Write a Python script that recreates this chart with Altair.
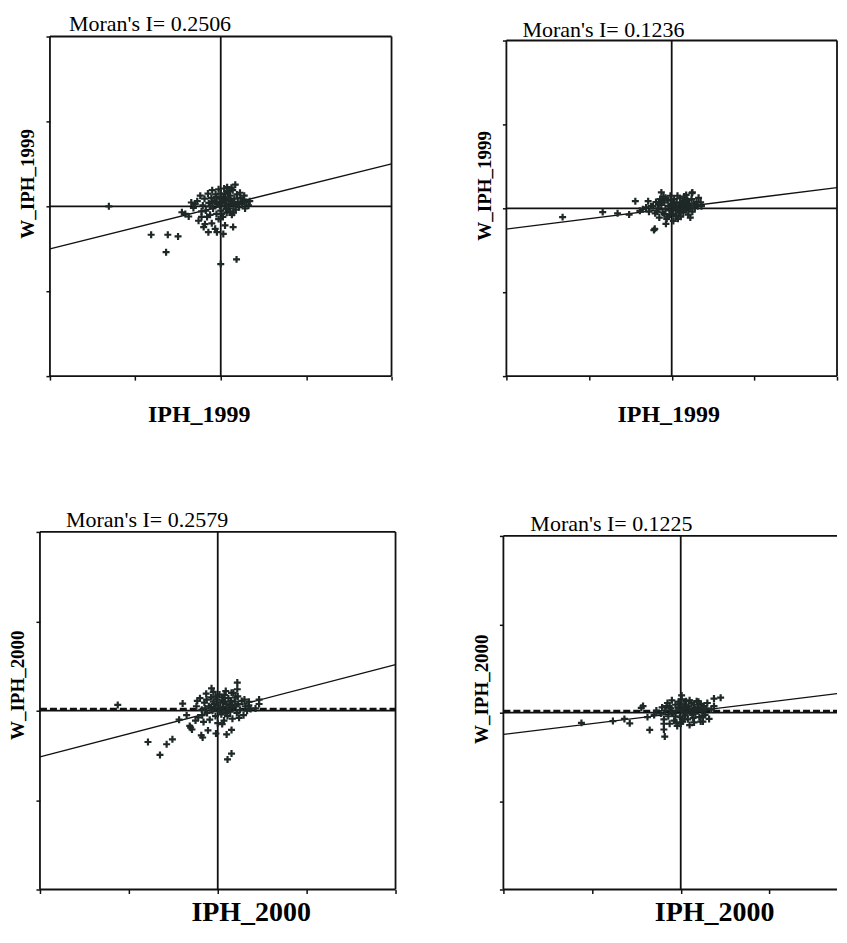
import altair as alt
import pandas as pd

# ---------------- data (standardised values) ----------------
moran_i = [0.2506, 0.1236, 0.2579, 0.1225]
titles = ["Moran's I= 0.2506", "Moran's I= 0.1236", "Moran's I= 0.2579", "Moran's I= 0.1225"]
x_names = ["IPH_1999", "IPH_1999", "IPH_2000", "IPH_2000"]
y_names = ["W_IPH_1999", "W_IPH_1999", "W_IPH_2000", "W_IPH_2000"]
tick_values = [-4, -2, 0, 2, 4]

p1_points = [
    (-2.62, 0.0), (-1.63, -0.67), (-1.24, -0.67), (-1.0, -0.71), (-1.28, -1.08),
    (0.37, -1.25), (0.0, -1.36), (0.29, -0.49), (-0.83, -0.18), (-0.91, -0.14),
    (-0.75, -0.24), (-0.69, 0.09), (-0.64, -0.04), (-0.52, -0.34), (-0.40, -0.49),
    (-0.29, -0.61), (-0.13, -0.53), (-0.09, -0.61), (0.06, -0.65), (-0.37, -0.42),
    (-0.21, -0.40), (0.34, 0.51), (0.10, -0.45), (-0.45, -0.25),
    (-0.55, 0.12), (-0.48, 0.25), (-0.42, 0.02), (-0.38, 0.18), (-0.35, -0.1),
    (-0.3, 0.3), (-0.28, 0.08), (-0.25, -0.2), (-0.22, 0.2), (-0.2, 0.38),
    (-0.18, -0.05), (-0.15, 0.12), (-0.12, 0.28), (-0.1, -0.18), (-0.08, 0.05),
    (-0.05, 0.4), (-0.03, 0.18), (0.0, -0.1), (0.0, 0.3), (0.02, 0.08),
    (0.05, -0.25), (0.06, 0.22), (0.08, 0.42), (0.1, 0.0), (0.12, 0.15),
    (0.14, -0.15), (0.16, 0.32), (0.18, 0.06), (0.2, -0.05), (0.22, 0.25),
    (0.24, 0.12), (0.26, -0.2), (0.28, 0.38), (0.3, 0.02), (0.32, 0.18),
    (0.35, -0.08), (0.38, 0.28), (0.4, 0.1), (0.43, -0.02), (0.46, 0.2),
    (0.5, 0.05), (0.53, 0.15), (0.57, -0.05), (0.6, 0.1), (0.65, 0.02),
    (0.68, 0.12), (-0.45, -0.12), (-0.6, 0.05), (0.15, 0.45), (0.25, 0.44),
    (-0.1, 0.22), (0.05, 0.12), (-0.2, 0.1), (0.1, 0.3), (0.3, -0.15),
    (0.45, 0.32), (-0.32, -0.25), (-0.05, -0.3), (0.2, 0.35), (0.55, 0.25),
    (-0.02, 0.02), (0.08, 0.2), (0.18, 0.18), (0.28, 0.1), (-0.12, 0.1),
    (0.38, 0.05), (0.12, -0.06), (-0.25, 0.0), (0.02, -0.18), (0.22, -0.12),
]

p2_points = [
    (-2.64, -0.21), (-1.67, -0.09), (-1.31, -0.12), (-1.03, -0.15), (-0.88, 0.17),
    (-0.57, 0.17), (-0.25, 0.38), (-0.41, -0.49), (-0.43, -0.52), (-0.77, -0.06),
    (-0.70, -0.02), (-0.14, -0.37), (0.49, 0.36), (0.70, 0.14), (0.50, 0.38),
    (-0.62, 0.02), (-0.55, -0.08), (-0.50, 0.05), (0.65, 0.25), (0.72, 0.05),
    (-0.45, 0.05), (-0.4, -0.12), (-0.38, 0.15), (-0.33, 0.0), (-0.3, -0.22),
    (-0.28, 0.22), (-0.25, 0.08), (-0.22, -0.1), (-0.2, 0.28), (-0.18, 0.14),
    (-0.15, -0.02), (-0.12, -0.25), (-0.1, 0.2), (-0.08, 0.06), (-0.05, -0.15),
    (-0.03, 0.3), (0.0, 0.1), (0.02, -0.05), (0.04, -0.3), (0.06, 0.22),
    (0.08, 0.02), (0.1, -0.18), (0.12, 0.14), (0.14, 0.3), (0.16, -0.08),
    (0.18, 0.06), (0.2, 0.24), (0.22, -0.2), (0.24, 0.0), (0.26, 0.16),
    (0.28, -0.1), (0.3, 0.28), (0.32, 0.08), (0.35, -0.04), (0.38, 0.2),
    (0.4, -0.15), (0.42, 0.1), (0.45, 0.0), (0.48, 0.22), (0.5, -0.08),
    (0.53, 0.12), (0.56, 0.02), (0.6, 0.15), (0.63, 0.05), (-0.35, -0.08),
    (-0.15, 0.25), (0.05, 0.12), (0.15, -0.25), (0.35, 0.32), (-0.05, -0.05),
    (0.25, 0.1), (0.45, -0.22), (-0.25, 0.18), (0.1, 0.05), (0.3, -0.02),
    (-0.1, -0.2), (-0.02, 0.18), (0.12, -0.02), (0.22, 0.12), (0.34, 0.18),
    (-0.18, -0.14), (0.04, -0.14), (0.2, -0.1), (0.4, 0.05), (-0.3, 0.1),
]

p3_points = [
    (-2.25, 0.13), (-1.57, -0.70), (-1.15, -0.75), (-1.02, -0.64), (-1.30, -0.99),
    (0.22, -1.09), (0.31, -0.96), (0.20, -0.53), (0.31, -0.43), (-0.04, -0.51),
    (-0.34, -0.60), (-0.37, -0.55), (-0.61, -0.38), (-0.58, -0.42), (-0.63, -0.34),
    (-0.87, -0.20), (-0.79, 0.16), (-0.14, 0.50), (0.44, 0.63), (0.44, 0.48),
    (0.31, 0.40), (0.93, 0.25), (0.93, 0.15), (0.48, -0.16), (-0.22, -0.44),
    (-0.46, 0.22), (0.85, 0.05), (0.70, 0.20), (-0.70, -0.10), (-0.50, -0.22),
    (-0.48, 0.1), (-0.44, -0.15), (-0.4, 0.28), (-0.36, 0.02), (-0.32, -0.25),
    (-0.3, 0.18), (-0.26, 0.38), (-0.24, -0.05), (-0.2, 0.1), (-0.18, -0.2),
    (-0.15, 0.3), (-0.12, 0.0), (-0.1, 0.42), (-0.08, 0.15), (-0.05, -0.12),
    (-0.02, 0.25), (0.0, -0.28), (0.02, 0.05), (0.04, 0.36), (0.06, 0.18),
    (0.08, -0.08), (0.1, 0.3), (0.12, 0.08), (0.14, -0.22), (0.16, 0.2),
    (0.18, 0.44), (0.2, 0.0), (0.22, -0.12), (0.24, 0.28), (0.26, 0.12),
    (0.28, -0.02), (0.3, 0.22), (0.33, -0.18), (0.36, 0.08), (0.4, 0.3),
    (0.43, -0.05), (0.46, 0.15), (0.5, 0.02), (0.54, 0.22), (0.58, -0.1),
    (0.62, 0.1), (0.66, 0.0), (0.7, 0.12), (0.74, 0.04), (-0.1, 0.2),
    (0.05, -0.02), (0.15, 0.35), (-0.25, 0.25), (0.35, 0.4), (0.1, -0.3),
    (-0.35, -0.1), (0.25, 0.05), (-0.05, 0.05), (0.45, 0.32), (0.6, 0.25),
    (0.0, 0.12), (0.12, 0.22), (0.2, 0.14), (-0.15, 0.08), (0.32, 0.12),
    (0.08, 0.02), (-0.05, 0.32), (0.18, -0.05), (0.38, 0.2), (-0.28, 0.05),
]

p4_points = [
    (-2.24, -0.23), (-1.53, -0.19), (-1.27, -0.14), (-1.15, -0.24), (-0.89, 0.11),
    (-0.85, 0.15), (-0.70, -0.39), (-0.38, -0.38), (-0.36, -0.54), (0.02, 0.39),
    (0.75, 0.32), (0.90, 0.34), (0.69, 0.07), (0.64, -0.14), (0.50, -0.07),
    (-0.60, -0.05), (-0.55, 0.05), (-0.75, -0.10), (0.45, -0.20), (0.75, 0.15),
    (-0.45, -0.02), (-0.42, 0.12), (-0.38, -0.15), (-0.35, 0.05), (-0.3, 0.22),
    (-0.28, -0.08), (-0.25, -0.25), (-0.22, 0.1), (-0.2, 0.28), (-0.18, -0.02),
    (-0.15, -0.18), (-0.12, 0.18), (-0.1, 0.04), (-0.08, -0.3), (-0.05, 0.25),
    (-0.02, -0.1), (0.0, 0.1), (0.02, 0.3), (0.04, -0.2), (0.06, 0.02),
    (0.08, 0.18), (0.1, -0.06), (0.12, 0.26), (0.14, 0.08), (0.16, -0.15),
    (0.18, 0.14), (0.2, -0.28), (0.22, 0.0), (0.24, 0.22), (0.26, 0.06),
    (0.28, -0.12), (0.3, 0.18), (0.33, -0.02), (0.36, 0.26), (0.39, 0.1),
    (0.42, -0.1), (0.45, 0.2), (0.48, 0.04), (0.52, 0.15), (0.55, -0.05),
    (0.58, 0.1), (0.6, 0.22), (-0.32, 0.15), (-0.1, -0.22), (0.1, 0.12),
    (0.3, -0.22), (-0.2, 0.0), (0.0, -0.25), (0.2, 0.28), (0.4, 0.25),
    (-0.05, 0.12), (0.15, 0.0), (-0.38, -0.25), (0.5, -0.2),
    (-0.02, 0.2), (0.08, -0.14), (0.2, 0.08), (0.34, 0.08), (-0.12, -0.08),
    (0.05, 0.08), (0.26, -0.04), (-0.25, 0.12), (0.12, 0.16), (0.44, 0.1),
]

# ---------------- styling ----------------
INK = "#111111"
PT = "#1e2826"
SERIF = "Liberation Serif"
PLUS = "M-1,0L1,0M0,-1L0,1"


def panel(points, moran, title, xname, yname, cell_w, cell_h, xmin, xmax, ymax, xticks,
          y_axis_off, t_dx, t_off, yt_y, xt_x, xt_y, xt_size, right_border, dashed):
    """One Moran scatterplot; the frame box spans [-4,4] in both axes."""
    xs = [p[0] for p in points]
    ys = [p[1] for p in points]
    xr = min(4, xmax)
    xscale = alt.Scale(domain=[xmin, xmax], nice=False, zero=False)
    yscale = alt.Scale(domain=[-4, ymax], nice=False, zero=False)
    xaxis = alt.Axis(values=xticks, labels=False, grid=False, domain=False, tickSize=4,
                     tickWidth=1.5, tickColor=INK, title=xname, titleFont=SERIF,
                     titleFontSize=xt_size, titleFontWeight="bold", titleColor="black",
                     titleX=xt_x, titleY=xt_y, titleAlign="center", titleBaseline="alphabetic")
    yaxis = alt.Axis(values=tick_values, labels=False, grid=False, domain=False, tickSize=4,
                     tickWidth=1.5, tickColor=INK, offset=y_axis_off, title=yname,
                     titleFont=SERIF, titleFontSize=19, titleFontWeight="bold",
                     titleColor="black", titleX=-22, titleY=yt_y, titleAngle=270,
                     titleAlign="center", titleBaseline="middle")
    X = alt.X("x:Q", scale=xscale, axis=xaxis)
    Y = alt.Y("y:Q", scale=yscale, axis=yaxis)

    # frame box
    vx = [-4, 4] if right_border else [-4]
    vbox = alt.Chart(pd.DataFrame({"x": vx, "y": [-4] * len(vx), "y2": [4] * len(vx)})).mark_rule(
        color=INK, strokeWidth=1.8).encode(x=X, y=Y, y2="y2:Q")
    hbox = alt.Chart(pd.DataFrame({"y": [-4, 4], "x": [-4, -4], "x2": [xr, xr]})).mark_rule(
        color=INK, strokeWidth=1.8).encode(y=Y, x=X, x2="x2:Q")
    # quadrant axes
    hline = alt.Chart(pd.DataFrame({"y": [0], "x": [-4], "x2": [xr]})).mark_rule(
        color=INK, strokeWidth=1.8).encode(y=Y, x=X, x2="x2:Q")
    vline = alt.Chart(pd.DataFrame({"x": [0], "y": [-4], "y2": [4]})).mark_rule(
        color=INK, strokeWidth=1.8).encode(x=X, y=Y, y2="y2:Q")
    # Moran regression line y = I * x
    reg = alt.Chart(pd.DataFrame({"x": [-4, 4], "y": [-4 * moran, 4 * moran]})).mark_line(
        clip=True, color=INK, strokeWidth=1.3).encode(x=X, y=Y)
    pts = alt.Chart(pd.DataFrame({"x": xs, "y": ys})).mark_point(
        shape=PLUS, filled=False, strokeWidth=2.2, size=49, color=PT, opacity=1).encode(x=X, y=Y)
    layers = [vbox, hbox, reg, hline, vline]
    if dashed:
        layers.append(alt.Chart(pd.DataFrame({"y": [0.04], "x": [-4], "x2": [xr]})).mark_rule(
            color=INK, strokeWidth=2.5, strokeDash=[7, 3]).encode(y=Y, x=X, x2="x2:Q"))
    layers.append(pts)
    return alt.layer(*layers).properties(
        width=cell_w, height=cell_h, view=alt.ViewBackground(stroke="transparent"),
        title=alt.TitleParams(text=title, anchor="start", frame="group", dx=t_dx, offset=t_off,
                              font=SERIF, fontSize=22, fontWeight="normal", color="black"))


# cells: column 1 starts at x=39, column 2 at x=503; row 1 top 39, row 2 top 535
p1 = panel(p1_points, moran_i[0], titles[0], x_names[0], y_names[0], 352, 340,
           -4 - 10 / 42.75, 4, 4, tick_values, -10, 29, -0.5, 147, 159, 45, 24, True, False)
p2 = panel(p2_points, moran_i[1], titles[1], x_names[1], y_names[1], 334, 340,
           -4 - 3 / 41.375, 4, 4 + 4 / 42.0, tick_values, -3, 19, -5.8, 149, 165, 45, 24, True, False)
p3 = panel(p3_points, moran_i[2], titles[2], x_names[2], y_names[2], 356, 358,
           -4, 4, 4, tick_values, 0, 26, -1.2, 153, 211, 31, 28, True, True)
p4 = panel(p4_points, moran_i[3], titles[3], x_names[3], y_names[3], 334, 358,
           -4, 3.525, 4 + 4 / 44.25, [-4, -2, 0, 2], 0, 27, -4, 157, 211, 31, 28, False, True)

chart = alt.concat(p1, p2, p3, p4, columns=2, bounds="flush",
                   spacing=alt.RowColnumber(row=156, column=108)).properties(
    padding={"left": 0, "top": 4, "right": 0, "bottom": 0}, background="white")

chart.save("out.html", embed_options={"renderer": "svg", "actions": False})
